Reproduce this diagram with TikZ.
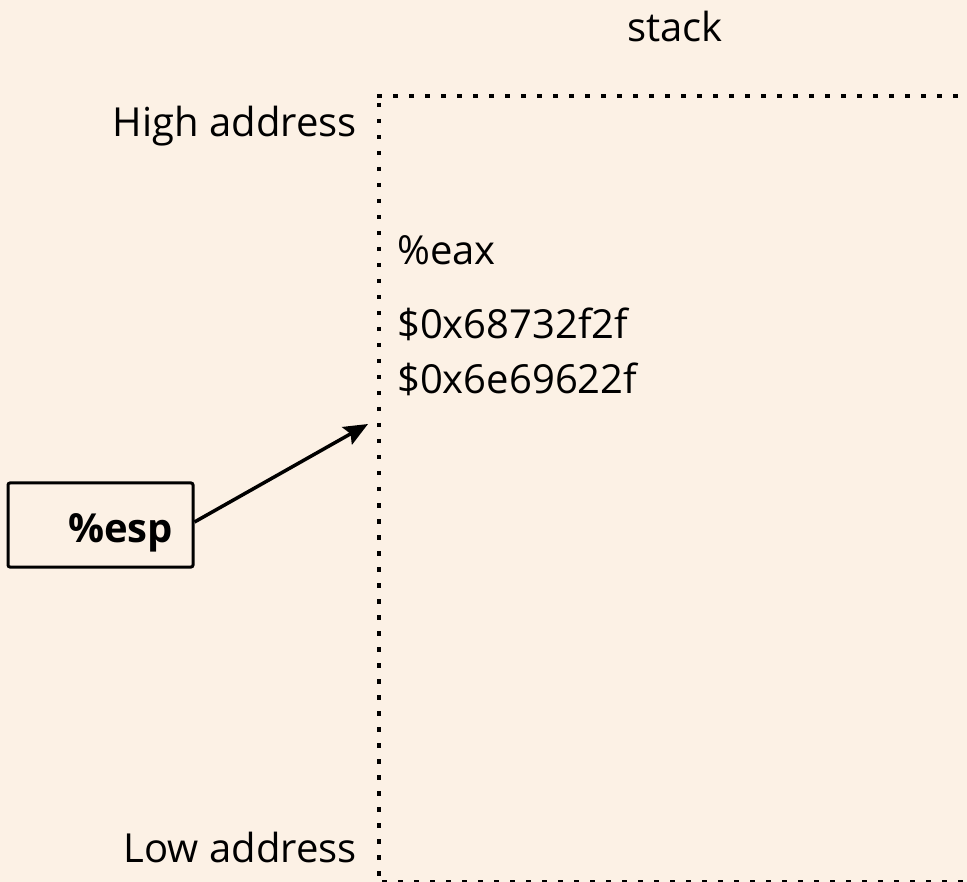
\documentclass[tikz,border=0pt]{standalone}
\usepackage{fontspec}
\setmainfont{Open Sans}
\usetikzlibrary{arrows.meta}
\definecolor{paper}{RGB}{252,241,229}
\begin{document}
\begin{tikzpicture}[x=1pt,y=-1pt,
  every node/.style={inner sep=0pt,font=\fontsize{40}{48}\selectfont},
  stackedge/.style={line width=4.5pt,dash pattern=on 4.5pt off 11.5pt},
  regbox/.style={draw,line width=3pt,rounded corners=2pt,minimum width=185pt,
    minimum height=84pt,text width=145pt,align=right,inner xsep=20pt,
    text height=44pt,text depth=10pt,font=\fontsize{40}{48}\selectfont\bfseries},
  pointer/.style={line width=3.5pt,-{Stealth[length=24pt,width=20pt,inset=4pt]}}]
  % canvas
  \fill[paper] (0,0) rectangle (967,882);
  \useasboundingbox (0,0) rectangle (967,882);

  % stack outline (bottom edge sits on the lower border)
  \coordinate (tl) at (377,96);
  \coordinate (tr) at (967,96);
  \coordinate (vt) at (379,103);
  \coordinate (vb) at (379,890);
  \coordinate (bl) at (382,882.5);
  \coordinate (br) at (967,882.5);
  \draw[stackedge] (tl) -- (tr);
  \draw[stackedge] (vt) -- (vb);
  \draw[stackedge] (bl) -- (br);

  % labels
  \node[anchor=base] (stack) at (675,42) {stack};
  \node[anchor=base east] (high) at (357,137) {High address};
  \node[anchor=base east] (low) at (357,862) {Low address};
  \node[anchor=base west] (eax) at (397,265) {\%eax};
  \node[anchor=base west] (v1) at (397,339) {\$0x68732f2f};
  \node[anchor=base west] (v2) at (397,394) {\$0x6e69622f};

  % stack pointer register
  \node[regbox] (esp) at (100.5,525) {\%esp};
  \coordinate (top) at (368,424);
  \draw[pointer] ([yshift=3pt]esp.east) -- (top);
\end{tikzpicture}
\end{document}
